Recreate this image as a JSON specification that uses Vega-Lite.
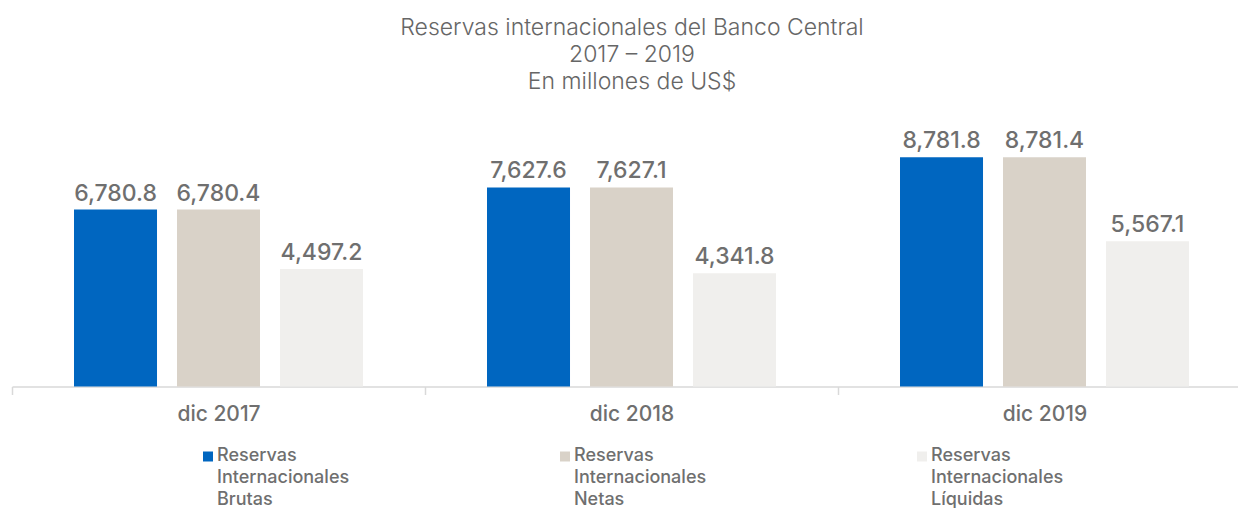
{
  "$schema": "https://vega.github.io/schema/vega-lite/v6.json",
  "autosize": "none",
  "width": 1226,
  "height": 261,
  "padding": {"left": 12, "top": 125.5, "right": 0, "bottom": 121.5},
  "title": {
    "text": ["Reservas internacionales del Banco Central", "2017 – 2019", "En millones de US$"],
    "fontSize": 23,
    "font": "Inter",
    "fontWeight": 300,
    "color": "#666666",
    "lineHeight": 27,
    "offset": 32,
    "dx": 7,
    "anchor": "middle"
  },
  "config": {"view": {"stroke": null}, "font": "Inter"},
  "data": {
    "values": [
      {"periodo": "dic 2017", "serie": "Reservas Internacionales Brutas", "valor": 6780.8},
      {"periodo": "dic 2017", "serie": "Reservas Internacionales Netas", "valor": 6780.4},
      {"periodo": "dic 2017", "serie": "Reservas Internacionales Líquidas", "valor": 4497.2},
      {"periodo": "dic 2018", "serie": "Reservas Internacionales Brutas", "valor": 7627.6},
      {"periodo": "dic 2018", "serie": "Reservas Internacionales Netas", "valor": 7627.1},
      {"periodo": "dic 2018", "serie": "Reservas Internacionales Líquidas", "valor": 4341.8},
      {"periodo": "dic 2019", "serie": "Reservas Internacionales Brutas", "valor": 8781.8},
      {"periodo": "dic 2019", "serie": "Reservas Internacionales Netas", "valor": 8781.4},
      {"periodo": "dic 2019", "serie": "Reservas Internacionales Líquidas", "valor": 5567.1}
    ]
  },
  "encoding": {
    "x": {
      "field": "periodo",
      "type": "nominal",
      "sort": null,
      "scale": {"range": [0, 1239], "paddingInner": 0, "paddingOuter": 0},
      "axis": {
        "title": null,
        "tickBand": "extent",
        "domainColor": "#d9d9d9",
        "domainWidth": 1.5,
        "tickColor": "#d9d9d9",
        "tickSize": 8,
        "tickWidth": 1.5,
        "labelFontSize": 21,
        "labelColor": "#6f6f6f",
        "labelFont": "Inter",
        "labelFontWeight": 500,
        "labelPadding": 9,
        "labelAngle": 0
      }
    },
    "xOffset": {
      "field": "serie",
      "sort": ["Reservas Internacionales Brutas", "Reservas Internacionales Netas", "Reservas Internacionales Líquidas"],
      "scale": {"paddingInner": 0.194, "paddingOuter": 0.602}
    },
    "y": {"field": "valor", "type": "quantitative", "scale": {"domain": [0, 10000]}, "axis": null}
  },
  "layer": [
    {
      "mark": {"type": "bar"},
      "encoding": {
        "color": {
          "field": "serie",
          "type": "nominal",
          "sort": ["Reservas Internacionales Brutas", "Reservas Internacionales Netas", "Reservas Internacionales Líquidas"],
          "scale": {
            "domain": ["Reservas Internacionales Brutas", "Reservas Internacionales Netas", "Reservas Internacionales Líquidas"],
            "range": ["#0066c0", "#d9d2c8", "#f0efed"]
          },
          "legend": {
            "title": null,
            "orient": "none",
            "legendX": 187,
            "legendY": 322,
            "direction": "horizontal",
            "symbolType": "square",
            "symbolSize": 100,
            "symbolStrokeWidth": 0,
            "symbolOpacity": 1,
            "labelFontSize": 18,
            "labelColor": "#6f6f6f",
            "labelFont": "Inter",
            "labelFontWeight": 500,
            "labelOffset": 0,
            "labelLimit": 400,
            "columnPadding": 206,
            "labelExpr": "split(datum.label, ' ')",
            "labelBaseline": "top",
            "encode": {"labels": {"update": {"dy": {"value": -10}, "lineHeight": {"value": 22}}}}
          }
        }
      }
    },
    {
      "mark": {"type": "text", "baseline": "alphabetic", "dy": -9, "fontSize": 23, "font": "Inter", "fontWeight": 500, "color": "#6f6f6f"},
      "encoding": {"text": {"field": "valor", "type": "quantitative", "format": ",.1f"}}
    }
  ]
}
